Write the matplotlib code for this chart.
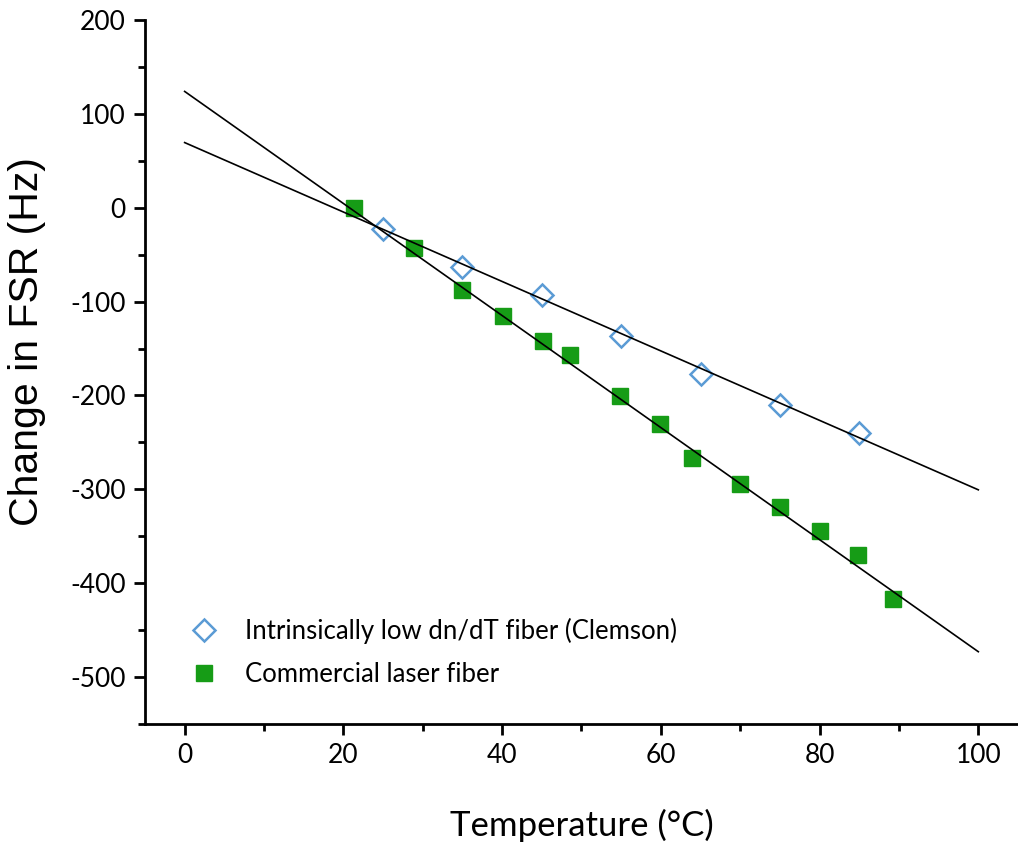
import numpy as np
import matplotlib.pyplot as plt
from matplotlib.ticker import MultipleLocator

# data
low_dndt_temp = [25, 35, 45, 55, 65, 75, 85]
low_dndt_fsr = [-23, -63, -93, -137, -177, -210, -240]

comm_temp = [21.4, 28.9, 35.0, 40.1, 45.1, 48.6, 54.9, 59.9, 63.9, 70.0, 75.0, 80.0, 84.9, 89.2]
comm_fsr = [0, -43, -88, -115, -142, -157, -201, -230, -267, -294, -319, -344, -370, -417]

# linear fit lines (end points)
fit_temp = [0, 100]
fit_low = [69.5, -300.5]
fit_comm = [124, -473]

plt.rcParams['font.family'] = ['Lato', 'DejaVu Sans']
plt.rcParams['axes.unicode_minus'] = False

fig = plt.figure(figsize=(10.18, 8.44), dpi=100)
ax = fig.add_axes([0.1424, 0.1422, 0.8576, 0.834])

ax.plot(fit_temp, fit_low, color='black', lw=1.2, zorder=3)
ax.plot(fit_temp, fit_comm, color='black', lw=1.2, zorder=3)
ax.plot(low_dndt_temp, low_dndt_fsr, ls='none', marker='D', ms=11, mfc='none',
        mec='#5b9bd5', mew=1.8, label='Intrinsically low dn/dT fiber (Clemson)', zorder=2)
ax.plot(comm_temp, comm_fsr, ls='none', marker='s', ms=11, mfc='#169c16',
        mec='#169c16', label='Commercial laser fiber', zorder=2)

ax.set_xlim(-5, 105)
ax.set_ylim(-550, 200)
ax.xaxis.set_major_locator(MultipleLocator(20))
ax.xaxis.set_minor_locator(MultipleLocator(10))
ax.yaxis.set_major_locator(MultipleLocator(100))
ax.yaxis.set_minor_locator(MultipleLocator(50))
ax.set_xticks([0, 20, 40, 60, 80, 100])

for s in ['top', 'right']:
    ax.spines[s].set_visible(False)
for s in ['left', 'bottom']:
    ax.spines[s].set_linewidth(2)

ax.tick_params(which='major', direction='out', length=8, width=2, labelsize=19, pad=6)
ax.tick_params(which='minor', direction='out', length=5, width=2)

ax.set_xlabel('Temperature (\u00b0C)', fontsize=25)
ax.xaxis.set_label_coords(0.5, -0.121)
ax.set_ylabel('Change in FSR (Hz)', fontsize=29.5, family='Liberation Sans')
ax.yaxis.set_label_coords(-0.113, 0.544)

ax.legend(loc='lower left', bbox_to_anchor=(0.012, 0.02), frameon=False, fontsize=18.5,
          handletextpad=0.6, labelspacing=0.7)

plt.savefig('out.png', dpi=100)
